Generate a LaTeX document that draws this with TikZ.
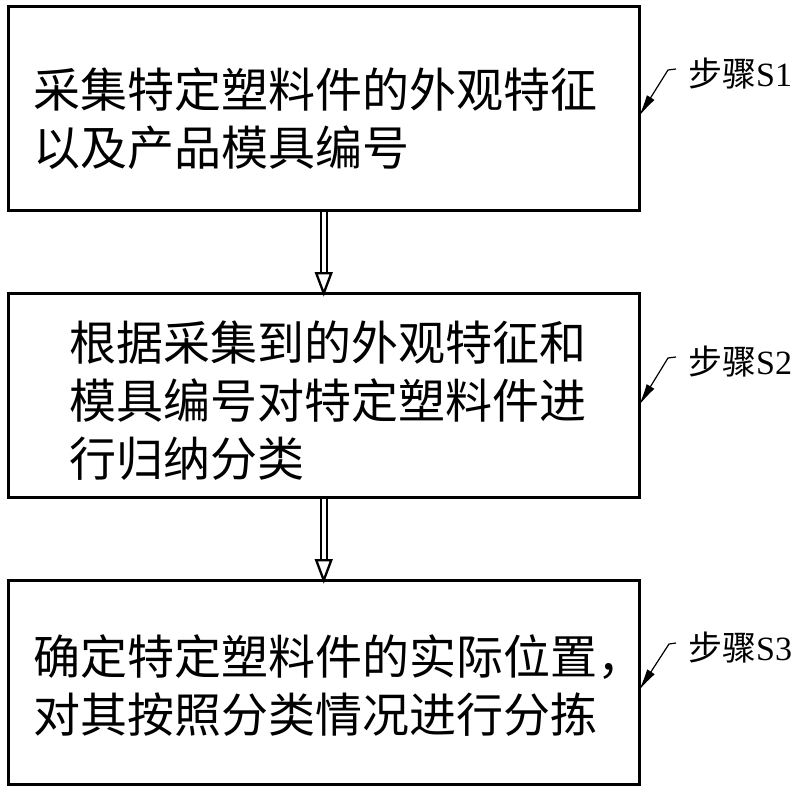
\documentclass[tikz,border=0pt]{standalone}
\usepackage{fontspec}
\newfontfamily\cjk{Noto Sans CJK SC}
\newfontfamily\lat{Liberation Serif}
\usetikzlibrary{arrows.meta,calc}
\begin{document}
\begin{tikzpicture}[x=1pt,y=-1pt,
  stepbox/.style={draw, line width=3pt, minimum width=630.5pt, minimum height=204pt, inner sep=0pt, outer sep=0pt},
  steptext/.style={anchor=west, align=left, inner sep=0pt, font=\cjk\fontsize{47}{58}\selectfont},
  steplabel/.style={anchor=west, inner sep=0pt, font=\cjk\fontsize{34}{40}\selectfont},
  leader/.style={line width=1.2pt, -{Latex[length=22pt,width=9pt]}},
  flowline/.style={line width=2.3pt}]
\useasboundingbox (0,0) rectangle (802,792);

\node[stepbox] (b1) at (323.75,108.25) {};
\node[stepbox] (b2) at (323.75,395.25) {};
\node[stepbox] (b3) at (323.75,682.25) {};

\node[steptext] (t1) at (33,119) {采集特定塑料件的外观特征\\以及产品模具编号};
\node[steptext] (t2) at (69,401) {根据采集到的外观特征和\\模具编号对特定塑料件进\\行归纳分类};
\node[steptext] (t3) at (33,686) {确定特定塑料件的实际位置，\\对其按照分类情况进行分拣};

% double arrows
\draw[flowline] ($(b1.south)+(-3,0)$) -- ($(b2.north)+(-3,-20)$);
\draw[flowline] ($(b1.south)+(3,0)$) -- ($(b2.north)+(3,-20)$);
\draw[flowline, fill=white] ($(b2.north)+(-7.5,-20)$) -- (b2.north) -- ($(b2.north)+(7.5,-20)$) -- cycle;
\draw[flowline] ($(b2.south)+(-3,0)$) -- ($(b3.north)+(-3,-20)$);
\draw[flowline] ($(b2.south)+(3,0)$) -- ($(b3.north)+(3,-20)$);
\draw[flowline, fill=white] ($(b3.north)+(-7.5,-20)$) -- (b3.north) -- ($(b3.north)+(7.5,-20)$) -- cycle;

% step labels
\node[steplabel] (s1) at (688,74) {步骤{\lat S1}};
\node[steplabel] (s2) at (688,362) {步骤{\lat S2}};
\node[steplabel] (s3) at (688,648) {步骤{\lat S3}};

\coordinate (p1) at ([yshift=-110pt]b1.north east);
\coordinate (p2) at ([yshift=-112pt]b2.north east);
\coordinate (p3) at ([yshift=-110pt]b3.north east);
\coordinate (k1) at (668,70);
\coordinate (k2) at (668,358);
\coordinate (k3) at (669,644);
\coordinate (e1) at (676,69);
\coordinate (e2) at (676,357);
\coordinate (e3) at (676,643);
\draw[leader] (e1) -- (k1) -- (p1);
\draw[leader] (e2) -- (k2) -- (p2);
\draw[leader] (e3) -- (k3) -- (p3);
\end{tikzpicture}
\end{document}
